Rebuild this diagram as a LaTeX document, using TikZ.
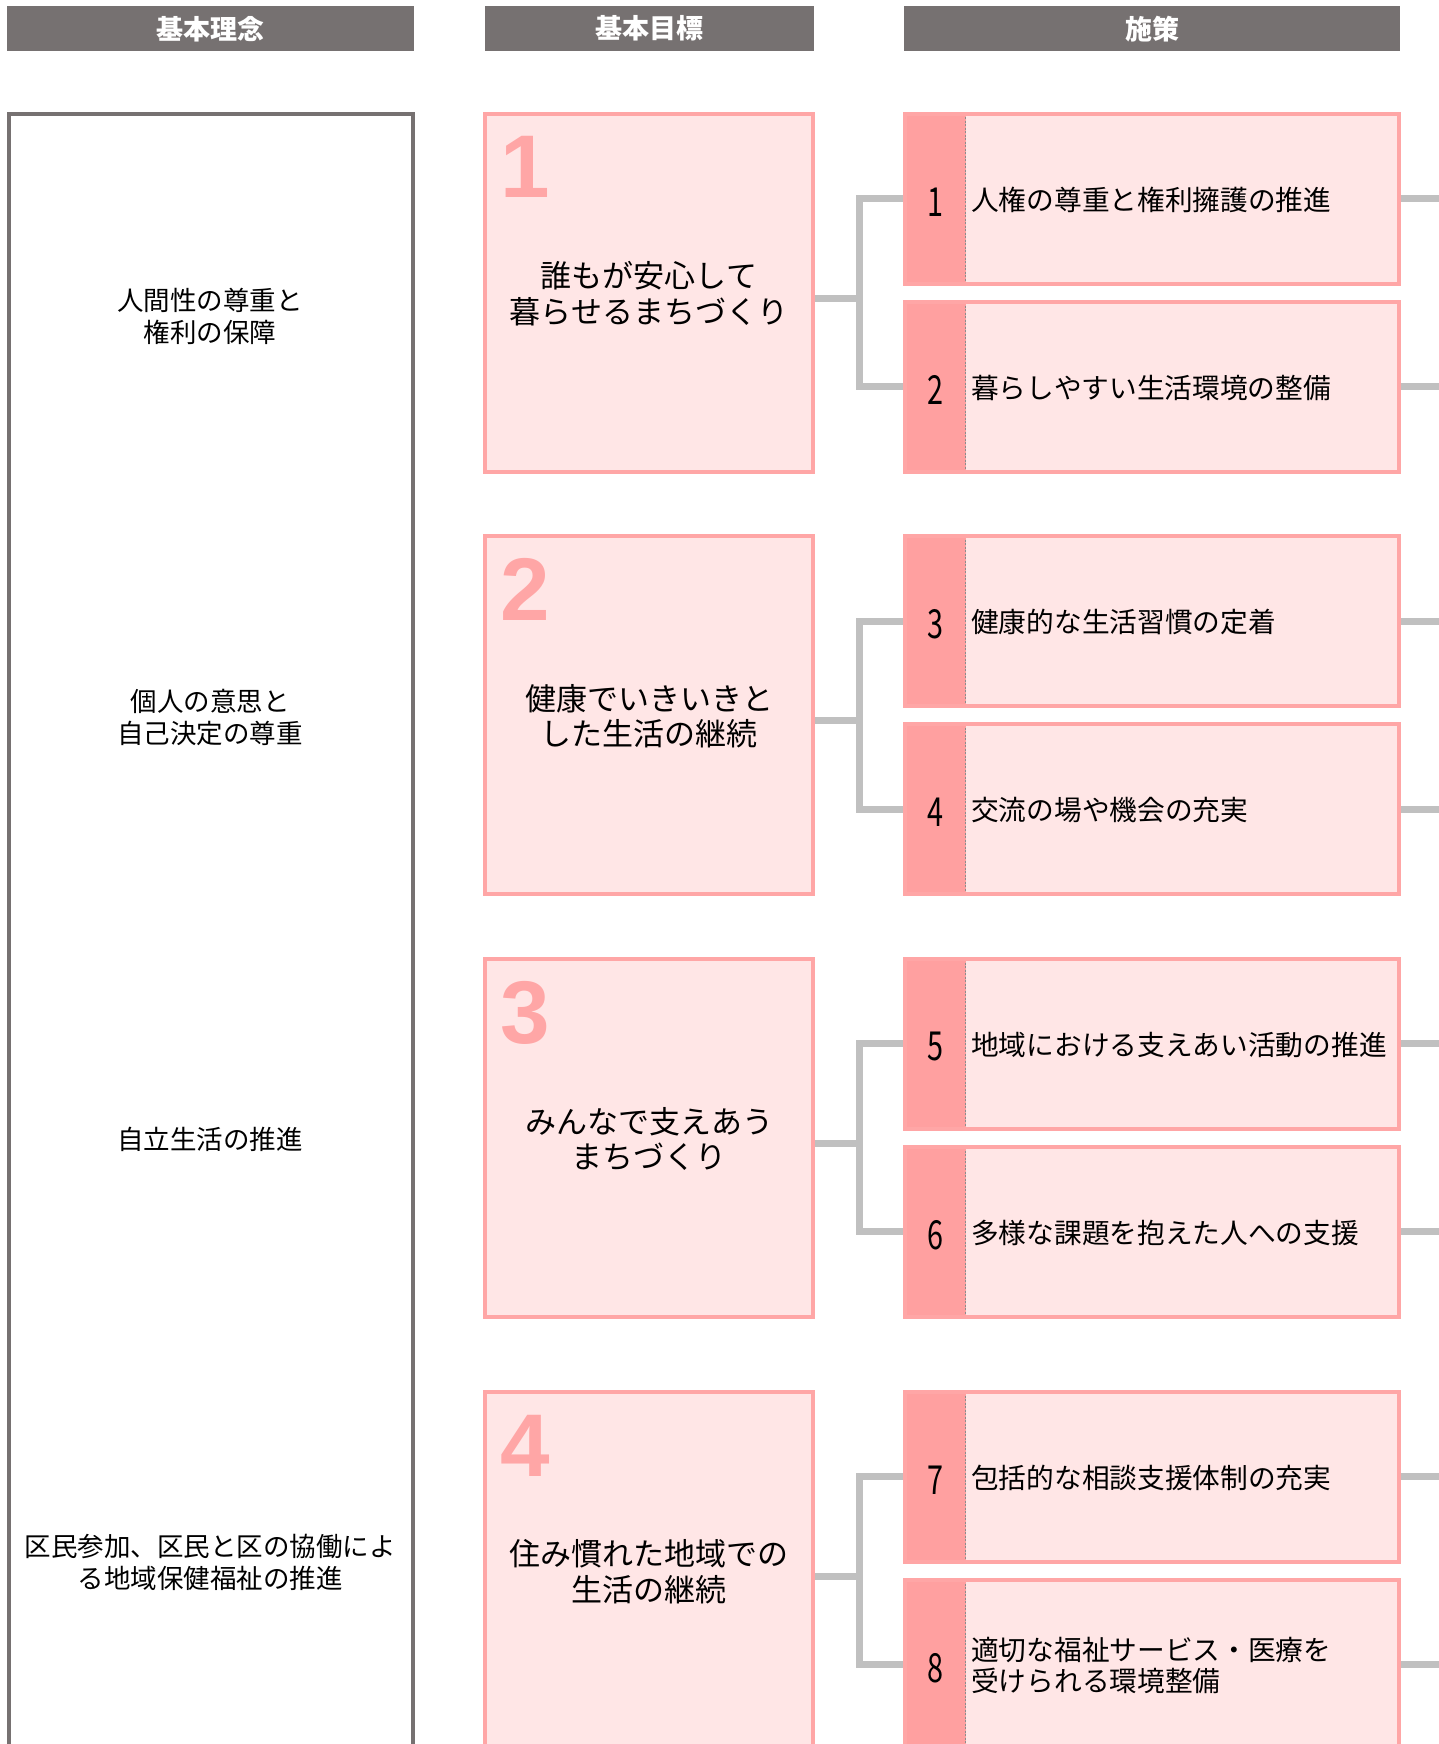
\documentclass[tikz,border=0pt]{standalone}
\usepackage{fontspec}
\setmainfont{Noto Sans CJK JP}
\newfontfamily\numfont{Liberation Sans}
\usetikzlibrary{calc}
\definecolor{hdrgray}{HTML}{767171}
\definecolor{pborder}{HTML}{FFA6A6}
\definecolor{pfill}{HTML}{FFE6E6}
\definecolor{pstrip}{HTML}{FFA0A0}
\definecolor{conngray}{HTML}{C0C0C0}
\definecolor{dashc}{HTML}{8C8C8C}
\pgfdeclarelayer{bg}
\pgfsetlayers{bg,main}
\begin{document}
\begin{tikzpicture}[x=1pt,y=-1pt,
 hdr/.style={fill=hdrgray, text=white, font=\fontsize{27pt}{32pt}\selectfont\bfseries, anchor=north west, inner sep=0pt, outer sep=0pt, minimum height=45.5pt},
 goalbox/.style={draw=pborder, line width=4pt, fill=pfill, anchor=north west, inner sep=0pt, outer sep=0pt, minimum width=328pt, minimum height=357.7pt},
 polbox/.style={draw=pborder, line width=4pt, fill=pfill, anchor=north west, inner sep=0pt, outer sep=0pt, minimum width=494pt, minimum height=169.7pt,
   path picture={\fill[pstrip] (path picture bounding box.north west) rectangle ([xshift=60.5pt]path picture bounding box.south west);
     \draw[dashc, line width=1pt, dash pattern=on 2pt off 1.5pt] ([xshift=60.5pt]path picture bounding box.north west) -- ([xshift=60.5pt]path picture bounding box.south west);}},
 conn/.style={draw=conngray, line width=7pt},
 ltext/.style={align=center, font=\fontsize{26.5pt}{32pt}\selectfont, inner sep=0pt},
 gtext/.style={align=center, font=\fontsize{31pt}{35.5pt}\selectfont, inner sep=0pt},
 ptext/.style={align=left, anchor=west, font=\fontsize{27.7pt}{31pt}\selectfont, inner sep=0pt},
 pnum/.style={inner sep=0pt, font=\fontsize{40pt}{40pt}\selectfont},
 gnum/.style={anchor=base west, inner sep=0pt, text=pborder, font=\numfont\bfseries\fontsize{89pt}{89pt}\selectfont},
]
\useasboundingbox (0,0) rectangle (1439,1744);
\clip (0,0) rectangle (1439,1744);

% headers
\node[hdr, minimum width=407pt] (h1) at (7,6) {基本理念};
\node[hdr, minimum width=329pt] (h2) at (485,6) {基本目標};
\node[hdr, minimum width=496pt] (h3) at (904,6) {施策};

% left column
\node[draw=hdrgray, line width=4pt, anchor=north west, inner sep=0pt, outer sep=0pt, minimum width=404pt, minimum height=1700pt] (lcol) at (9,114) {};
\node[ltext] (l1) at (210,316) {人間性の尊重と\\権利の保障};
\node[ltext] (l2) at (210,717) {個人の意思と\\自己決定の尊重};
\node[ltext] (l3) at (210,1139) {自立生活の推進};
\node[ltext] (l4) at (210,1562) {区民参加、区民と区の協働によ\\る地域保健福祉の推進};

% goals (row tops: 112, 534.3, 957, 1390)
\node[goalbox] (g1) at (485,114) {};
\node[goalbox] (g2) at (485,536.3) {};
\node[goalbox] (g3) at (485,959) {};
\node[goalbox] (g4) at (485,1392) {};
\node[gnum] (g1n) at ($(g1.north west)+(15,84)$) {1};
\node[gnum] (g2n) at ($(g2.north west)+(15,84)$) {2};
\node[gnum] (g3n) at ($(g3.north west)+(15,84)$) {3};
\node[gnum] (g4n) at ($(g4.north west)+(15,84)$) {4};
\node[gtext] (g1t) at ([yshift=-1pt]g1.center) {誰もが安心して\\暮らせるまちづくり};
\node[gtext] (g2t) at ([yshift=-1pt]g2.center) {健康でいきいきと\\した生活の継続};
\node[gtext] (g3t) at ([yshift=-1pt]g3.center) {みんなで支えあう\\まちづくり};
\node[gtext] (g4t) at ([yshift=-1pt]g4.center) {住み慣れた地域での\\生活の継続};

% policies
\node[polbox] (p1) at (905,114) {};
\node[polbox] (p2) at (905,302) {};
\node[polbox] (p3) at (905,536.3) {};
\node[polbox] (p4) at (905,724.3) {};
\node[polbox] (p5) at (905,959) {};
\node[polbox] (p6) at (905,1147) {};
\node[polbox] (p7) at (905,1392) {};
\node[polbox] (p8) at (905,1580) {};
\foreach \i in {1,...,8}{
  \node[pnum] (p\i n) at ($(p\i.west)+(30,3)$) {\scalebox{0.72}[1]{\i}};
}
\node[ptext] (p1t) at ($(p1.west)+(66,1)$) {人権の尊重と権利擁護の推進};
\node[ptext] (p2t) at ($(p2.west)+(66,1)$) {暮らしやすい生活環境の整備};
\node[ptext] (p3t) at ($(p3.west)+(66,1)$) {健康的な生活習慣の定着};
\node[ptext] (p4t) at ($(p4.west)+(66,1)$) {交流の場や機会の充実};
\node[ptext] (p5t) at ($(p5.west)+(66,1)$) {地域における支えあい活動の推進};
\node[ptext] (p6t) at ($(p6.west)+(66,1)$) {多様な課題を抱えた人への支援};
\node[ptext] (p7t) at ($(p7.west)+(66,1)$) {包括的な相談支援体制の充実};
\node[ptext] (p8t) at ($(p8.west)+(66,1)$) {適切な福祉サービス・医療を\\受けられる環境整備};

% connectors
\coordinate (R) at (1450,0);
\begin{pgfonlayer}{bg}
\fill[white] (0,0) rectangle (1439,1744);
\foreach \g/\a/\b in {1/1/2, 2/3/4, 3/5/6, 4/7/8}{
  \coordinate (j\g) at ($(g\g.east)+(46.5,5.5)$);
  \draw[conn] ([yshift=-5.5pt]g\g.east) -- (j\g);
  \draw[conn] (p\a.west) -| (j\g) |- (p\b.west);
  \draw[conn] (p\a.east) -- (p\a.east -| R);
  \draw[conn] (p\b.east) -- (p\b.east -| R);
}
\end{pgfonlayer}
\end{tikzpicture}
\end{document}
